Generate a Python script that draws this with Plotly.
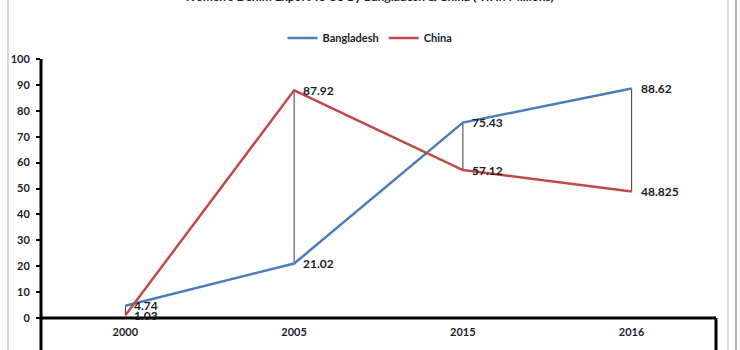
import plotly.graph_objects as go

years = ["2000", "2005", "2015", "2016"]
bangladesh = [4.74, 21.02, 75.43, 88.62]
china = [1.03, 87.92, 57.12, 48.825]
bd_labels = ["4.74", "21.02", "75.43", "88.62"]
cn_labels = ["1.03", "87.92", "57.12", "48.825"]
y_ticks = [0, 10, 20, 30, 40, 50, 60, 70, 80, 90, 100]

W, H = 740, 350
L, R, T, B = 41, 24, 59, 32
plot_w = W - L - R
plot_h = H - T - B

def px_x(p):
    return (p - L) / plot_w

def px_y(p):
    return (H - B - p) / plot_h

FONT = "Lato"
LABEL_COLOR = "#1b1d2b"
BLUE = "#4a7ebb"
RED = "#be4b48"

fig = go.Figure()

# high-low connectors between the two series at each year
hl_x, hl_y = [], []
for yr, a, b in zip(years, bangladesh, china):
    hl_x += [yr, yr, None]
    hl_y += [a, b, None]
fig.add_trace(go.Scatter(x=hl_x, y=hl_y, mode="lines",
                         line=dict(color="#3a3a3a", width=1),
                         showlegend=False, hoverinfo="skip"))

fig.add_trace(go.Scatter(x=years, y=bangladesh, name="Bangladesh",
                         mode="lines", line=dict(color=BLUE, width=2.5)))
fig.add_trace(go.Scatter(x=years, y=china, name="China",
                         mode="lines", line=dict(color=RED, width=2.5)))

shapes = [
    # outer frame edges
    dict(type="line", xref="paper", yref="paper", x0=px_x(8), x1=px_x(8),
         y0=px_y(0), y1=px_y(H), line=dict(color="#c8c8c8", width=1.5)),
    dict(type="line", xref="paper", yref="paper", x0=px_x(728), x1=px_x(728),
         y0=px_y(0), y1=px_y(H), line=dict(color="#d4d4d4", width=1.5)),
    dict(type="line", xref="paper", yref="paper", x0=px_x(736), x1=px_x(736),
         y0=px_y(0), y1=px_y(H), line=dict(color="#9a9a9a", width=1.5)),
    # value axis continues down past the category axis
    dict(type="line", xref="paper", yref="paper", x0=0, x1=0,
         y0=1, y1=px_y(H + 2), line=dict(color="black", width=3)),
    # category axis line and right edge of the category box
    dict(type="line", xref="paper", yref="paper", x0=0, x1=1,
         y0=0, y1=0, line=dict(color="black", width=3)),
    dict(type="line", xref="paper", yref="paper", x0=1, x1=1,
         y0=0, y1=px_y(H + 2), line=dict(color="black", width=3)),
]

label_font = dict(family=FONT, size=12, color=LABEL_COLOR, weight="bold")
annotations = []
# value labels to the right of each point (category index on the x axis)
for labels, values in ((bd_labels, bangladesh), (cn_labels, china)):
    for i, (v, t) in enumerate(zip(values, labels)):
        annotations.append(dict(text=t, x=i, y=v, xref="x", yref="y",
                                xanchor="left", yanchor="middle", xshift=7,
                                showarrow=False, font=label_font))

annotations += [
    dict(text="<b>Women's Denim Export To US By Bangladesh & China ( Tk In Millions)</b>",
         xref="paper", yref="paper", x=px_x(369), y=px_y(-4),
         xanchor="center", yanchor="middle", showarrow=False,
         font=dict(family=FONT, size=12, color="#1b1d2b")),
    dict(text="<b>Years</b>", xref="paper", yref="paper",
         x=px_x(370), y=px_y(355), xanchor="center", yanchor="middle",
         showarrow=False, font=dict(family=FONT, size=12, color="#1b1d2b")),
]

fig.update_layout(
    width=W, height=H,
    margin=dict(l=L, r=R, t=T, b=B, pad=0),
    paper_bgcolor="white", plot_bgcolor="white",
    font=dict(family=FONT, size=11, color=LABEL_COLOR),
    showlegend=True,
    legend=dict(orientation="h", x=px_x(370), xanchor="center",
                y=px_y(38), yanchor="middle",
                font=dict(family=FONT, size=11, color=LABEL_COLOR, weight="bold"),
                itemwidth=30, tracegroupgap=0, bgcolor="rgba(0,0,0,0)"),
    xaxis=dict(type="category", categoryorder="array", categoryarray=years,
               range=[-0.5, 3.5], showgrid=False, zeroline=False,
               showline=False, ticks="", tickfont=dict(family=FONT, size=11,
                                                      color=LABEL_COLOR, weight="bold"),
               ticklabelstandoff=6, fixedrange=True),
    yaxis=dict(range=[0, 100], tickvals=y_ticks, showgrid=False,
               zeroline=False, showline=False, ticks="outside", ticklen=4,
               tickwidth=2, tickcolor="black",
               tickfont=dict(family=FONT, size=11, color=LABEL_COLOR, weight="bold"),
               ticklabelstandoff=4),
    shapes=shapes,
    annotations=annotations,
)

fig.write_html("out.html")
